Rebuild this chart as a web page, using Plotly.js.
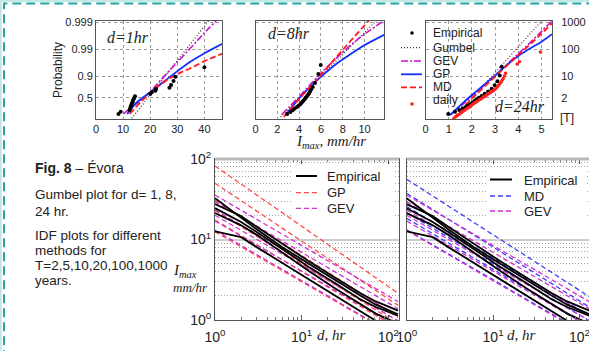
<!DOCTYPE html>
<html><head><meta charset="utf-8">
<script src="https://cdn.plot.ly/plotly-3.0.1.min.js"></script>
<style>html,body{margin:0;padding:0;background:#fff;}#chart{width:589px;height:351px;}</style>
</head><body><div id="chart"></div>
<script>
// ================= DATA =================
// Gumbel-plot probability ticks and return-period ticks
const probTicks = [0.5, 0.9, 0.99, 0.999];
const probTickText = ['0.5', '0.9', '0.99', '0.999'];
const returnPeriods = [2, 10, 100, 1000];
const returnPeriodText = ['2', '10', '100', '1000'];

// d = 1 hr  (x: Imax mm/hr, y: Gumbel reduced variate -ln(-ln P))
const d1EmpI = [8.3, 9.1, 12.4, 12.6, 12.8, 13.0, 13.2, 13.4, 13.6, 13.8, 14.1, 14.4, 20.0, 20.6, 21.9, 22.2, 27.1, 27.7, 28.6, 29.3, 40.0];
const d1EmpY = [-1.05, -0.85, -0.7, -0.55, -0.42, -0.3, -0.18, -0.05, 0.08, 0.2, 0.35, 0.5, 0.69, 0.84, 0.97, 1.12, 1.24, 1.47, 1.82, 2.2, 3.02];
const d1GumI = [12.5, 42.0];
const d1GumY = [-1.65, 7.2];
const d1GevI = [10.1, 14.0, 18.8, 26.2, 34.8, 41.0, 47.0];
const d1GevY = [-1.05, -0.3, 0.6, 2.5, 4.67, 6.27, 7.7];
const d1GpI = [11.5, 15.0, 20.0, 26.3, 34.8, 41.1, 47.0];
const d1GpY = [-1.06, -0.05, 0.84, 2.0, 3.5, 4.38, 5.1];
const d1MdI = [12.4, 17.0, 22.5, 29.9, 34.8, 41.0, 47.0];
const d1MdY = [-1.05, 0.1, 1.3, 2.41, 2.93, 3.65, 4.24];

// d = 8 hr
const d8EmpI = [2.9, 3.2, 3.4, 3.6, 3.8, 3.95, 4.1, 4.2, 4.3, 4.4, 4.5, 4.6, 4.7, 4.8, 4.9, 5.0, 5.1, 5.25, 5.45, 5.76, 5.98];
const d8EmpY = [-1.06, -0.88, -0.72, -0.58, -0.45, -0.33, -0.21, -0.1, 0.01, 0.12, 0.24, 0.36, 0.48, 0.6, 0.74, 0.9, 1.08, 1.3, 1.65, 2.43, 3.22];
const d8GumI = [2.3, 11.2];
const d8GumY = [-1.3, 7.2];
const d8GevI = [2.4, 4.0, 5.6, 7.5, 9.3, 11.8];
const d8GevY = [-1.1, 0.45, 2.1, 3.9, 5.4, 7.1];
const d8GpI = [2.8, 4.0, 5.0, 6.2, 7.4, 8.7, 9.9, 11.8];
const d8GpY = [-1.1, 0.3, 1.3, 2.35, 3.3, 4.15, 4.9, 5.85];
const d8MdI = [2.6, 4.0, 6.0, 8.0, 10.4];
const d8MdY = [-1.3, 0.25, 2.35, 4.55, 7.1];

// d = 24 hr
const d24EmpI = [0.98, 1.27, 1.45, 1.6, 1.72, 1.82, 1.9, 1.98, 2.05, 2.12, 2.2, 2.3, 2.42, 2.55, 2.7, 2.85, 2.98, 3.1, 3.2, 3.28];
const d24EmpY = [-1.06, -0.85, -0.7, -0.58, -0.46, -0.35, -0.24, -0.13, -0.02, 0.1, 0.22, 0.36, 0.52, 0.7, 0.9, 1.15, 1.45, 1.8, 2.3, 3.07];
const d24DailyI = [1.22, 1.3, 1.38, 1.45, 1.52, 1.58, 1.64, 1.7, 1.76, 1.82, 1.88, 1.93, 1.98, 2.03, 2.08, 2.14, 2.2, 2.26, 2.32, 2.38, 2.44, 2.5, 2.56, 2.62, 2.68, 2.75, 2.82, 2.88, 2.94, 3.0, 3.05, 3.1, 3.15, 3.2, 3.25, 3.3, 3.35, 3.4, 3.45, 3.95, 4.05, 4.95];
const d24DailyY = [-1.45, -1.3, -1.18, -1.07, -0.97, -0.88, -0.79, -0.7, -0.62, -0.54, -0.46, -0.38, -0.3, -0.22, -0.14, -0.06, 0.02, 0.1, 0.18, 0.26, 0.34, 0.42, 0.5, 0.58, 0.66, 0.75, 0.84, 0.93, 1.02, 1.12, 1.22, 1.33, 1.45, 1.58, 1.72, 1.88, 2.05, 2.25, 2.5, 3.3, 3.5, 4.35];
const d24GumI = [1.2, 5.0];
const d24GumY = [-1.5, 7.05];
const d24GevI = [1.1, 1.5, 2.0, 2.5, 3.0, 3.5, 4.0, 4.5, 5.0, 5.45];
const d24GevY = [-1.1, -0.4, 0.5, 1.4, 2.3, 3.25, 4.2, 5.15, 6.15, 7.05];
const d24GpI = [1.05, 1.5, 2.0, 2.5, 3.0, 3.5, 4.0, 4.5, 5.0, 5.45];
const d24GpY = [-1.15, -0.3, 0.6, 1.45, 2.3, 3.2, 4.0, 4.65, 5.25, 5.9];
const d24MdI = [1.2, 1.5, 2.0, 2.5, 3.0, 3.5, 4.0, 4.5, 5.0, 5.45];
const d24MdY = [-1.45, -0.75, 0.3, 1.25, 2.2, 3.15, 4.1, 5.0, 5.95, 6.85];

// IDF curves, T = 2,5,10,20,100,1000 years (values read at d = 1 hr and at the right edge)
const idfT = [2, 5, 10, 20, 100, 1000];
const idfDur = [1, 130];
const gpAt1 = [12.5, 17.5, 23, 31, 50, 82];
const gpAtEnd = [0.61, 0.78, 0.9, 1.08, 1.52, 2.15];
const gevAt1 = [13, 17, 20, 23.3, 29.5, 35.7];
const gevAtEnd = [0.62, 0.82, 0.98, 1.12, 1.38, 1.69];
const mdAt1 = [13.2, 18.3, 21.5, 25.7, 37.5, 56];
const mdAtEnd = [0.64, 0.84, 0.98, 1.13, 1.45, 1.95];

// Empirical IDF lines
const empDur = [1, 2, 3, 6, 12, 24, 48, 72, 130];
const empA = [12.6, 10.7, 8.1, 5.1, 3.2, 2.0, 1.26, 0.96, 0.66];
const empB = [21.3, 15.0, 11.5, 6.8, 4.1, 2.5, 1.55, 1.2, 0.9];
const empC = [24.5, 16.5, 12.5, 7.5, 4.6, 2.9, 1.8, 1.45, 1.13];
const empD = [27.5, 19.5, 14.5, 8.8, 5.4, 3.4, 2.15, 1.7, 1.31];
const empE = [32.6, 18.5, 13.5, 8.0, 5.0, 3.2, 2.0, 1.55, 1.18];

const logTickVals = [1, 10, 100];
const logTickText = ['10<sup>0</sup>', '10<sup>1</sup>', '10<sup>2</sup>'];
const logMinorVals = [2, 3, 4, 5, 6, 7, 8, 9, 20, 30, 40, 50, 60, 70, 80, 90];

// ================= STYLE =================
const SANS = 'Liberation Sans, Arial, Helvetica, sans-serif';
const SERIF = 'Liberation Serif, Times New Roman, serif';
const W = 589, H = 351;
const gum = p => -Math.log(-Math.log(p));
const PX = v => v / W, PY = v => 1 - v / H;

const C_BLUE = '#1030ff', C_RED = '#ff1a1a', C_MAG = '#cc10cc', C_DOT = '#333333';
const C_GP2 = '#ff4a4a', C_GEV2 = '#d22ed2', C_MD2 = '#3d3dff';

const traces = [];
function gumbelPanel(xa, ya, gI, gY, evI, evY, gpI, gpY, mdI, mdY, eI, eY) {
  traces.push({x: gI, y: gY, xaxis: xa, yaxis: ya, mode: 'lines', line: {color: C_DOT, width: 1.2, dash: '1px,2px'}});
  traces.push({x: evI, y: evY, xaxis: xa, yaxis: ya, mode: 'lines', line: {color: C_MAG, width: 1.6, dash: '7px,2px,2px,2px', shape: 'spline'}});
  traces.push({x: gpI, y: gpY, xaxis: xa, yaxis: ya, mode: 'lines', line: {color: C_BLUE, width: 1.8, shape: 'spline'}});
  traces.push({x: mdI, y: mdY, xaxis: xa, yaxis: ya, mode: 'lines', line: {color: C_RED, width: 1.8, dash: '6px,3px', shape: 'spline'}});
  traces.push({x: eI, y: eY, xaxis: xa, yaxis: ya, mode: 'markers', marker: {color: '#000', size: 4}});
}
gumbelPanel('x', 'y', d1GumI, d1GumY, d1GevI, d1GevY, d1GpI, d1GpY, d1MdI, d1MdY, d1EmpI, d1EmpY);
gumbelPanel('x2', 'y2', d8GumI, d8GumY, d8GevI, d8GevY, d8GpI, d8GpY, d8MdI, d8MdY, d8EmpI, d8EmpY);
gumbelPanel('x3', 'y3', d24GumI, d24GumY, d24GevI, d24GevY, d24GpI, d24GpY, d24MdI, d24MdY, d24EmpI, d24EmpY);
traces.push({x: d24DailyI, y: d24DailyY, xaxis: 'x3', yaxis: 'y3', mode: 'markers', marker: {color: '#ff2020', size: 3.5}});

function idfPanel(xa, ya, at1, atEnd, color) {
  for (let i = 0; i < idfT.length; i++) {
    traces.push({x: idfDur, y: [at1[i], atEnd[i]], xaxis: xa, yaxis: ya, mode: 'lines', line: {color: color, width: 1.3, dash: '5px,3px'}});
  }
}
function empPanel(xa, ya) {
  [empA, empB, empC, empD, empE].forEach(v => traces.push({x: empDur, y: v, xaxis: xa, yaxis: ya, mode: 'lines', line: {color: '#000', width: 1.8}}));
}
idfPanel('x4', 'y4', gpAt1, gpAtEnd, C_GP2);
idfPanel('x4', 'y4', gevAt1, gevAtEnd, C_GEV2);
empPanel('x4', 'y4');
idfPanel('x5', 'y5', mdAt1, mdAtEnd, C_MD2);
idfPanel('x5', 'y5', gevAt1, gevAtEnd, C_GEV2);
empPanel('x5', 'y5');

// ================= AXES =================
const gFrame = {showline: true, linecolor: '#555', linewidth: 1, mirror: true, zeroline: false, ticks: '',
  showgrid: true, gridcolor: '#9a9a9a', griddash: 'dot', gridwidth: 1, fixedrange: true,
  tickfont: {family: SANS, size: 11, color: '#222'}};
const topDom = [PY(119), PY(21)];
const probY = probTicks.map(gum);
const tY = returnPeriods.map(T => gum(1 - 1 / T));
const yRange = [-1.49, 7.05];

const bx = {type: 'log', showline: true, linecolor: '#555', linewidth: 1, mirror: 'allticks', zeroline: false,
  ticks: 'inside', ticklen: 5, tickcolor: '#555', showgrid: false, fixedrange: true,
  tickmode: 'array', tickvals: logTickVals, ticktext: logTickText, ticklabelstandoff: 4,
  tickfont: {family: SANS, size: 14, color: '#222'},
  minor: {tickmode: 'array', tickvals: logMinorVals, ticks: 'inside', ticklen: 3, tickcolor: '#777', showgrid: false}};
const by = {type: 'log', range: [0, 2], domain: [PY(320), PY(159)], showline: true, linecolor: '#555', linewidth: 1,
  zeroline: false, ticks: '', showgrid: true, gridcolor: '#cdcdcd', gridwidth: 2, fixedrange: true,
  tickmode: 'array', tickvals: logTickVals, ticktext: logTickText,
  tickfont: {family: SANS, size: 14, color: '#222'},
  minor: {tickmode: 'array', tickvals: logMinorVals, showgrid: true, gridcolor: '#a8a8a8', griddash: '1px,2px', gridwidth: 1, ticks: ''}};

const layout = {
  width: W, height: H, margin: {l: 0, r: 0, t: 0, b: 0}, showlegend: false,
  paper_bgcolor: '#fff', plot_bgcolor: '#fff', font: {family: SANS, color: '#222'},
  xaxis: Object.assign({}, gFrame, {domain: [PX(96), PX(222)], range: [0, 46.5], tickmode: 'array', tickvals: [0, 10, 20, 30, 40], anchor: 'y'}),
  yaxis: Object.assign({}, gFrame, {domain: topDom, range: yRange, tickmode: 'array', tickvals: probY, ticktext: probTickText, anchor: 'x'}),
  xaxis2: Object.assign({}, gFrame, {domain: [PX(255.5), PX(384)], range: [0, 11.78], tickmode: 'array', tickvals: [0, 2, 4, 6, 8, 10], anchor: 'y2'}),
  yaxis2: Object.assign({}, gFrame, {domain: topDom, range: yRange, tickmode: 'array', tickvals: probY, showticklabels: false, anchor: 'x2'}),
  xaxis3: Object.assign({}, gFrame, {domain: [PX(425.5), PX(552)], range: [0, 5.45], tickmode: 'array', tickvals: [0, 1, 2, 3, 4, 5], anchor: 'y3'}),
  yaxis3: Object.assign({}, gFrame, {domain: topDom, range: yRange, tickmode: 'array', tickvals: tY, ticktext: returnPeriodText, side: 'right', ticklabelstandoff: 6, anchor: 'x3'}),
  xaxis4: Object.assign({}, bx, {domain: [PX(215), PX(399)], range: [0, 2.125], anchor: 'y4'}),
  yaxis4: Object.assign({}, by, {mirror: true, anchor: 'x4'}),
  xaxis5: Object.assign({}, bx, {domain: [PX(406.7), 1], range: [0, 2.11], ticklabeloverflow: 'allow', anchor: 'y5'}),
  yaxis5: Object.assign({}, by, {mirror: false, showticklabels: false, anchor: 'x5'}),
  shapes: [], annotations: []
};

// ================= DECORATION: frame, legends, texts =================
const S = layout.shapes, A = layout.annotations;
function hline(x0, x1, y, color, width, dash) {
  S.push({type: 'line', xref: 'paper', yref: 'paper', x0: PX(x0), x1: PX(x1), y0: PY(y), y1: PY(y), line: {color: color, width: width, dash: dash || 'solid'}});
}
function dot(x, y, r, color) {
  S.push({type: 'circle', xref: 'paper', yref: 'paper', x0: PX(x - r), x1: PX(x + r), y0: PY(y + r), y1: PY(y - r), fillcolor: color, line: {width: 0}});
}
function txt(text, x, y, size, opts) {
  A.push(Object.assign({text: text, xref: 'paper', yref: 'paper', x: PX(x), y: PY(y), xanchor: 'left', yanchor: 'middle', showarrow: false,
    font: {family: SANS, size: size, color: '#222'}}, opts || {}));
}

// outer teal dashed frame
S.push({type: 'rect', xref: 'paper', yref: 'paper', x0: PX(1), x1: 1.2, y0: -0.2, y1: PY(1), line: {color: '#c4e8e8', width: 2}});
S.push({type: 'rect', xref: 'paper', yref: 'paper', x0: PX(4), x1: 1.2, y0: -0.2, y1: PY(3.5), line: {color: '#27a3a3', width: 2, dash: '9px,5px'}});

// top gray band of IDF panels
hline(215, 399, 159, '#b9b9b9', 3);
hline(406.7, 589, 159, '#b9b9b9', 3);

// legend of Gumbel panel
dot(412, 33, 1.8, '#000');
hline(401, 422, 47.7, C_DOT, 1.2, '1px,2px');
hline(401, 422, 61, C_MAG, 1.6, '7px,2px,2px,2px');
hline(401, 422, 74.3, C_BLUE, 1.8);
hline(401, 422, 87.3, C_RED, 1.8, '6px,3px');
dot(412, 104, 1.8, '#ff2020');
txt('Empirical', 431, 33, 12);
txt('Gumbel', 431, 47.7, 12);
txt('GEV', 431, 61, 12);
txt('GP', 431, 74.3, 12);
txt('MD', 431, 87.3, 12);
txt('daily', 431, 100, 12);

// legends of IDF panels
S.push({type: 'rect', xref: 'paper', yref: 'paper', x0: PX(292), x1: PX(393), y0: PY(218), y1: PY(166), fillcolor: '#fff', line: {width: 0}});
S.push({type: 'rect', xref: 'paper', yref: 'paper', x0: PX(486), x1: PX(585), y0: PY(220), y1: PY(168), fillcolor: '#fff', line: {width: 0}});
hline(296, 317, 176, '#000', 2);
hline(296, 317, 192.7, C_GP2, 1.3, '5px,3px');
hline(296, 317, 208.3, C_GEV2, 1.3, '5px,3px');
txt('Empirical', 325, 176.5, 13);
txt('GP', 325, 192.7, 13);
txt('GEV', 325, 208.3, 13);
hline(490, 512, 179.5, '#000', 2);
hline(490, 512, 196, C_MD2, 1.3, '5px,3px');
hline(490, 512, 211, C_GEV2, 1.3, '5px,3px');
txt('Empirical', 521.7, 180.7, 13);
txt('MD', 521.7, 196, 13);
txt('GEV', 521.7, 211, 13);

// axis titles and panel labels
A.push({text: 'Probability', xref: 'paper', yref: 'paper', x: PX(58), y: PY(70), textangle: -90, showarrow: false,
  xanchor: 'center', yanchor: 'middle', font: {family: SANS, size: 12, color: '#222'}});
txt('<i>d=1hr</i>', 105, 38, 16, {font: {family: SERIF, size: 16, color: '#222'}});
txt('<i>d=8hr</i>', 266, 34, 16, {font: {family: SERIF, size: 16, color: '#222'}});
txt('<i>d=24hr</i>', 493, 107, 16, {font: {family: SERIF, size: 16, color: '#222'}});
txt('[T]', 558, 118, 12);
txt('<i>I<sub>max</sub>, mm/hr</i>', 331, 142, 15, {xanchor: 'center', font: {family: SERIF, size: 15, color: '#222'}});
txt('<i>d, hr</i>', 331.5, 335, 15, {xanchor: 'center', font: {family: SERIF, size: 15, color: '#222'}});
txt('<i>d, hr</i>', 521.5, 335, 15, {xanchor: 'center', font: {family: SERIF, size: 15, color: '#222'}});
txt('<i>I<sub>max</sub></i>', 171, 271, 15, {font: {family: SERIF, size: 15, color: '#222'}});
txt('<i>mm/hr</i>', 171, 287, 13, {font: {family: SERIF, size: 13, color: '#222'}});

// left caption
txt('<b>Fig. 8</b> – Évora', 33, 168.3, 14);
txt('Gumbel plot for d= 1, 8,', 33, 194.3, 13.5);
txt('24 hr.', 33, 211, 13.5);
txt('IDF plots for different', 33, 235, 13.5);
txt('methods for', 33, 250, 13.5);
txt('T=2,5,10,20,100,1000', 33, 265.7, 13.5);
txt('years.', 33, 280.7, 13.5);

Plotly.newPlot('chart', traces, layout, {staticPlot: true, displayModeBar: false});
</script>
</body></html>
